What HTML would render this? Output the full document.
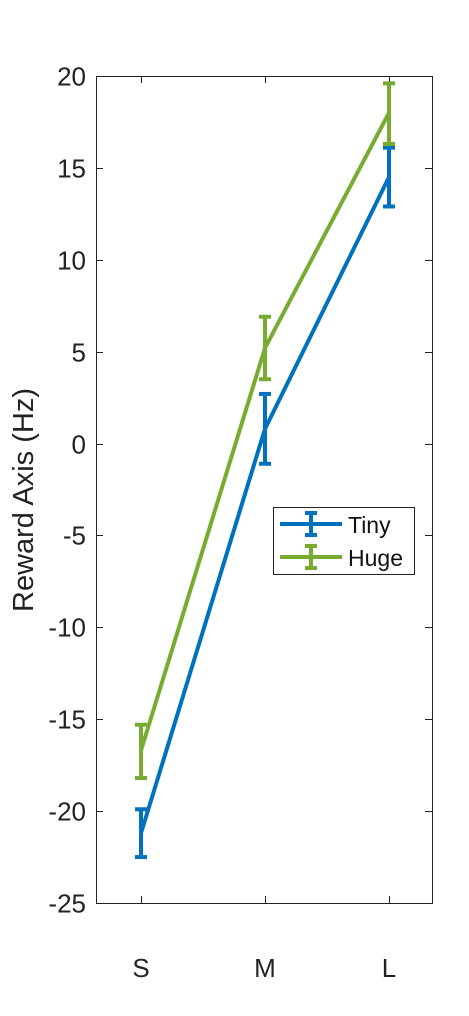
<!DOCTYPE html>
<html><head><meta charset="utf-8"><style>
html,body{margin:0;padding:0;background:#fff;}
svg{display:block;font-family:"Liberation Sans",sans-serif;}
</style></head><body>
<svg id="chart" width="469" height="1016" viewBox="0 0 469 1016" xmlns="http://www.w3.org/2000/svg">
<rect x="0" y="0" width="469" height="1016" fill="#fff"/>
<g id="axes"></g>
<g id="series"></g>
<text x="33" y="500" font-size="29" fill="#222" text-anchor="middle" transform="rotate(-90 33 500)">Reward Axis (Hz)</text>
<g>
<rect x="273.5" y="507.5" width="141" height="67" fill="#fff" stroke="#222" stroke-width="1"/>
<g>
<line x1="280" y1="524" x2="342" y2="524" stroke="#0072BD" stroke-width="4"/>
<line x1="311" y1="513" x2="311" y2="535" stroke="#0072BD" stroke-width="4"/>
<line x1="305" y1="513" x2="317" y2="513" stroke="#0072BD" stroke-width="4"/>
<line x1="305" y1="535" x2="317" y2="535" stroke="#0072BD" stroke-width="4"/>
<text x="348" y="533" font-size="23" fill="#111">Tiny</text>
</g>
<g>
<line x1="280" y1="557" x2="342" y2="557" stroke="#77AC30" stroke-width="4"/>
<line x1="311" y1="546" x2="311" y2="568" stroke="#77AC30" stroke-width="4"/>
<line x1="305" y1="546" x2="317" y2="546" stroke="#77AC30" stroke-width="4"/>
<line x1="305" y1="568" x2="317" y2="568" stroke="#77AC30" stroke-width="4"/>
<text x="348" y="566" font-size="23" fill="#111">Huge</text>
</g>
</g>
</svg>
<script>
const categories = ["S","M","L"];
const tinyMean = [-21.2, 0.8, 14.5];
const tinyLow = [-22.5, -1.1, 12.9];
const tinyHigh = [-19.9, 2.7, 16.1];
const hugeMean = [-16.7, 5.2, 18.0];
const hugeLow = [-18.2, 3.5, 16.3];
const hugeHigh = [-15.3, 6.9, 19.6];
const yTicks = [20,15,10,5,0,-5,-10,-15,-20,-25];

const NS="http://www.w3.org/2000/svg";
const L=96,R=432,T=76,B=903,yMin=-25,yMax=20;
function y(v){return B-(v-yMin)/(yMax-yMin)*(B-T);}
function x(i){return 141+i*124;}
function mk(tag,attrs,parent){const e=document.createElementNS(NS,tag);for(const k in attrs)e.setAttribute(k,attrs[k]);parent.appendChild(e);return e;}
const ax=document.getElementById('axes');
const box=mk('rect',{x:L+0.5,y:T+0.5,width:R-L,height:B-T,fill:'none',stroke:'#222','stroke-width':1},ax);


yTicks.forEach(v=>{
  const yy=Math.round(y(v))+0.5;
  mk('line',{x1:L,y1:yy,x2:L+7,y2:yy,stroke:'#222'},ax);
  mk('line',{x1:R-7,y1:yy,x2:R,y2:yy,stroke:'#222'},ax);
  const t=mk('text',{x:L-10,y:yy+9,'font-size':26,fill:'#222','text-anchor':'end'},ax);
  t.textContent=v;
  
  
});
categories.forEach((c,i)=>{
  const xx=x(i)+0.5;
  mk('line',{x1:xx,y1:B,x2:xx,y2:B-7,stroke:'#222'},ax);
  mk('line',{x1:xx,y1:T,x2:xx,y2:T+7,stroke:'#222'},ax);
  const t=mk('text',{x:x(i),y:977,'font-size':26,fill:'#222','text-anchor':'middle'},ax);
  t.textContent=c;
  
  
});
const sg=document.getElementById('series');
function series(name,mean,lo,hi,color){
  const g=mk('g',{},sg);
  
  
  mk('polyline',{points:mean.map((v,i)=>x(i)+','+y(v)).join(' '),fill:'none',stroke:color,'stroke-width':4},g);
  mean.forEach((v,i)=>{
    const e=mk('g',{},g);
    
    
    mk('line',{x1:x(i),y1:y(lo[i]),x2:x(i),y2:y(hi[i]),stroke:color,'stroke-width':4},e);
    mk('line',{x1:x(i)-6,y1:y(lo[i]),x2:x(i)+6,y2:y(lo[i]),stroke:color,'stroke-width':4},e);
    mk('line',{x1:x(i)-6,y1:y(hi[i]),x2:x(i)+6,y2:y(hi[i]),stroke:color,'stroke-width':4},e);
  });
}
series('series-tiny',tinyMean,tinyLow,tinyHigh,'#0072BD');
series('series-huge',hugeMean,hugeLow,hugeHigh,'#77AC30');
</script>
</body></html>
